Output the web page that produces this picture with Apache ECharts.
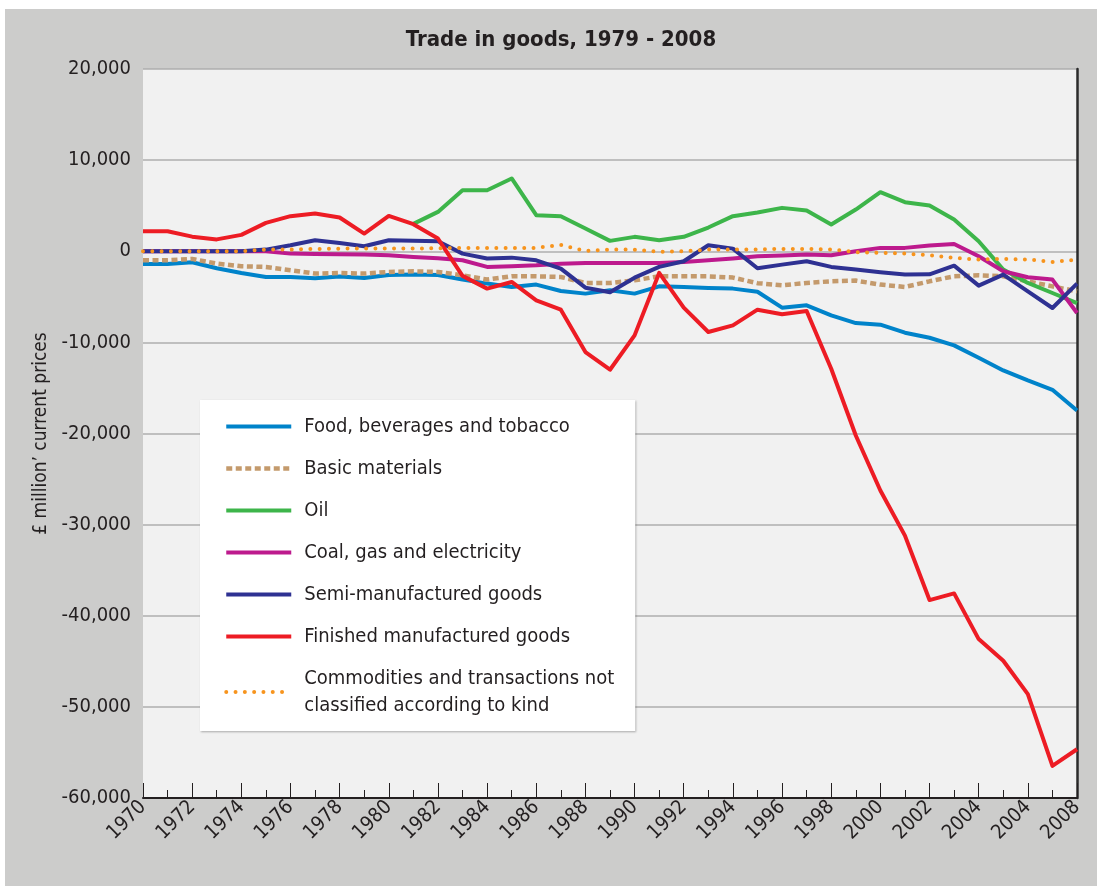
<!DOCTYPE html>
<html>
<head>
<meta charset="utf-8">
<script src="https://cdn.jsdelivr.net/npm/echarts@6/dist/echarts.min.js"></script>
<style>
  html, body { margin: 0; padding: 0; background: #ffffff; }
  #chart { position: absolute; left: 5px; top: 9px; width: 1092px; height: 877px; }
</style>
</head>
<body>
<div id="chart"></div>
<script>
// ---- Data ----
const years = ['1970','1971','1972','1973','1974','1975','1976','1977','1978','1979',
  '1980','1981','1982','1983','1984','1985','1986','1987','1988','1989',
  '1990','1991','1992','1993','1994','1995','1996','1997','1998','1999',
  '2000','2001','2002','2003','2004','2005','2006','2007','2008'];

// x tick labels as printed (every second year; note the original's "2004" at 2006)
const xTickLabels = ['1970','1972','1974','1976','1978','1980','1982','1984','1986','1988',
  '1990','1992','1994','1996','1998','2000','2002','2004','2004','2008'];

const yTickValues = [20000, 10000, 0, -10000, -20000, -30000, -40000, -50000, -60000];
const yTickLabels = ['20,000','10,000','0','-10,000','-20,000','-30,000','-40,000','-50,000','-60,000'];

const food = [-1400,-1400,-1200,-1870,-2380,-2820,-2820,-2970,-2780,-2930,
  -2600,-2560,-2600,-3110,-3550,-3920,-3660,-4360,-4650,-4290,
  -4650,-3850,-3920,-4030,-4100,-4450,-6190,-5930,-7030,-7880,
  -8060,-8940,-9490,-10330,-11690,-13080,-14180,-15200,-17470];

const basic = [-990,-990,-840,-1350,-1650,-1720,-2090,-2450,-2380,-2450,
  -2270,-2200,-2270,-2640,-3110,-2750,-2750,-2820,-3480,-3480,
  -3190,-2750,-2750,-2750,-2890,-3500,-3740,-3480,-3300,-3220,
  -3660,-3920,-3300,-2750,-2640,-2750,-3300,-3850,-4400];

const oil = [null,null,null,null,null,null,null,null,null,null,
  null,3000,4320,6700,6700,7990,3960,3850,2490,1140,
  1580,1210,1580,2600,3850,4250,4760,4470,2930,4580,
  6480,5380,5020,3480,1100,-2010,-3480,-4580,-5700];

const coal = [0,0,0,0,0,0,-260,-290,-330,-370,
  -440,-620,-770,-990,-1720,-1650,-1540,-1360,-1280,-1280,
  -1280,-1280,-1170,-990,-800,-550,-480,-370,-440,0,
  370,370,620,800,-550,-2200,-2860,-3110,-6780];

const semi = [0,0,0,0,0,180,660,1210,915,550,
  1210,1140,1100,-260,-800,-700,-990,-1900,-4000,-4500,
  -2900,-1720,-1100,660,290,-1870,-1470,-1100,-1720,-2010,
  -2310,-2560,-2530,-1580,-3770,-2560,-4400,-6230,-3550];

const finished = [2200,2200,1600,1300,1800,3110,3850,4140,3700,1940,
  3880,2970,1390,-2700,-4100,-3370,-5380,-6410,-11060,-13000,
  -9230,-2380,-6190,-8860,-8130,-6410,-6920,-6560,-12890,-20220,
  -26260,-31210,-38280,-37550,-42560,-44940,-48600,-56480,-54650];

const commodities = [0,0,0,0,0,180,200,250,290,290,
  290,300,330,370,370,370,370,700,40,180,
  180,-70,0,180,200,200,250,250,200,-100,
  -180,-250,-450,-730,-920,-840,-900,-1170,-920];

const seriesNames = ['Food, beverages and tobacco','Basic materials','Oil','Coal, gas and electricity',
  'Semi-manufactured goods','Finished manufactured goods','Commodities and transactions not\nclassified according to kind'];

// ---- Chart ----
const FONT = "'Liberation Sans Narrow', 'Arial Narrow', 'DejaVu Sans Condensed', 'Roboto Condensed', sans-serif";
const TXT = '#231f20';

const chart = echarts.init(document.getElementById('chart'), null, {renderer: 'canvas'});

function lineSeries(name, data, color, lineExtra) {
  return {
    name: name,
    type: 'line',
    data: data,
    symbol: 'none',
    xAxisIndex: 0,
    yAxisIndex: 0,
    lineStyle: Object.assign({ color: color, width: 4, join: 'round' }, lineExtra || {}),
    itemStyle: { color: color, opacity: 0 },
    emphasis: { disabled: true },
    silent: true
  };
}

const option = {
  animation: false,
  backgroundColor: '#cccccb',
  textStyle: { fontFamily: FONT, color: TXT },
  title: {
    text: 'Trade in goods, 1979 - 2008',
    left: 551,
    textAlign: 'center',
    top: 15,
    textStyle: { fontFamily: FONT, fontSize: 22, fontWeight: 'bold', color: TXT }
  },
  grid: {
    left: 138, top: 60, right: 20, bottom: 88,
    show: true, backgroundColor: '#f1f1f1', borderWidth: 0,
    containLabel: false
  },
  legend: {
    orient: 'vertical',
    left: 195, top: 391,
    backgroundColor: '#ffffff',
    borderWidth: 0,
    shadowColor: 'rgba(0,0,0,0.3)', shadowBlur: 2, shadowOffsetX: 1, shadowOffsetY: 1,
    padding: [13, 21, 12, 24],
    itemWidth: 65, itemHeight: 14,
    itemGap: 15,
    selectedMode: false,
    data: seriesNames,
    itemStyle: { opacity: 0 },
    lineStyle: { width: 'inherit' },
    textStyle: { fontFamily: FONT, fontSize: 20, lineHeight: 27, color: TXT, padding: [0, 0, 0, 8] }
  },
  xAxis: [
    {
      type: 'category',
      data: years,
      boundaryGap: false,
      position: 'bottom',
      axisLine: { show: true, onZero: false, lineStyle: { color: TXT, width: 2 } },
      axisTick: { show: true, inside: true, length: 15, interval: 1, lineStyle: { color: TXT, width: 1 } },
      axisLabel: {
        interval: 1, rotate: 45, margin: 6,
        fontFamily: FONT, fontSize: 20, color: TXT,
        formatter: function (val, idx) { return xTickLabels[Math.round(idx / 2)]; }
      },
      splitLine: { show: false }
    },
    {
      type: 'category',
      data: years,
      boundaryGap: false,
      position: 'bottom',
      axisLine: { show: false, onZero: false },
      axisTick: { show: true, inside: true, length: 8, interval: 0, lineStyle: { color: TXT, width: 1 } },
      axisLabel: { show: false },
      splitLine: { show: false }
    }
  ],
  yAxis: [
    {
      type: 'value',
      min: -60000, max: 20000, interval: 10000,
      position: 'left',
      axisLine: { show: false },
      axisTick: { show: false },
      axisLabel: {
        margin: 12, fontFamily: FONT, fontSize: 20, color: TXT,
        formatter: function (v) { const i = yTickValues.indexOf(v); return i >= 0 ? yTickLabels[i] : ''; }
      },
      splitLine: { show: true, lineStyle: { color: '#aeaeae', width: 1.5 } },
      name: '£ million’ current prices',
      nameLocation: 'middle',
      nameRotate: 90,
      nameGap: 90,
      nameTextStyle: { fontFamily: FONT, fontSize: 19, color: TXT }
    },
    {
      type: 'value',
      min: -60000, max: 20000, interval: 10000,
      position: 'right',
      axisLine: { show: true, lineStyle: { color: '#2b2b2b', width: 2.5 } },
      axisTick: { show: false },
      axisLabel: { show: false },
      splitLine: { show: false }
    }
  ],
  series: [
    lineSeries(seriesNames[0], food, '#0083ca'),
    lineSeries(seriesNames[1], basic, '#c49a6c', { width: 4.5, type: [6, 3.5] }),
    lineSeries(seriesNames[2], oil, '#3db54a'),
    lineSeries(seriesNames[3], coal, '#bd1a8d'),
    lineSeries(seriesNames[4], semi, '#2e3192'),
    lineSeries(seriesNames[5], finished, '#ed1c24'),
    lineSeries(seriesNames[6], commodities, '#f7941d', { width: 4, type: [0, 9.3], cap: 'round' })
  ]
};

chart.setOption(option);
</script>
</body>
</html>
